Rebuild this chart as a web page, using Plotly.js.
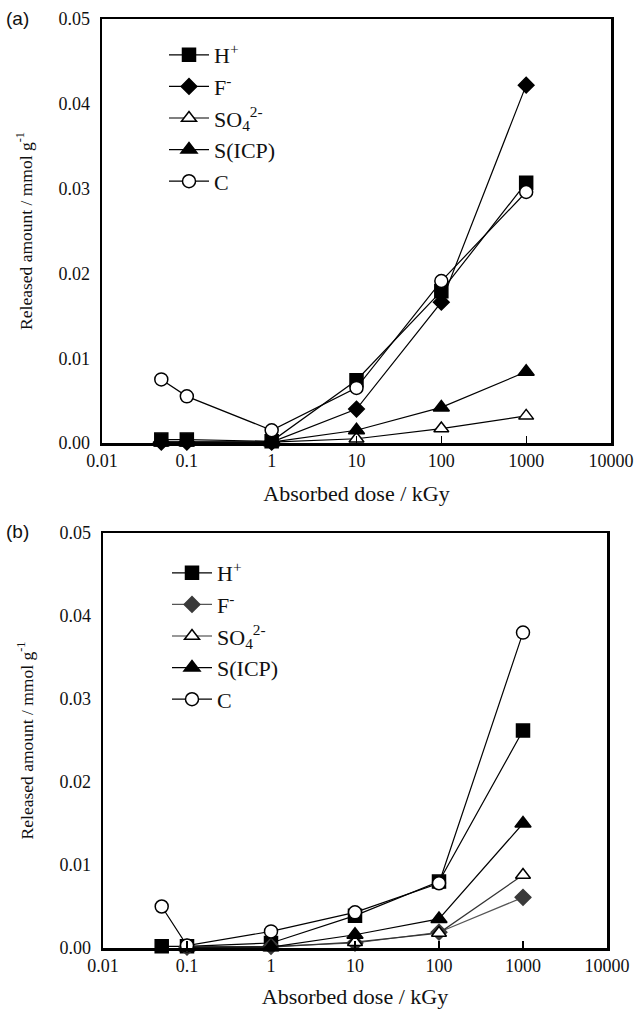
<!DOCTYPE html>
<html>
<head>
<meta charset="utf-8">
<script src="https://cdn.plot.ly/plotly-3.0.1.min.js"></script>
<style>html,body{margin:0;padding:0;background:#fff;}#chart{width:637px;height:1009px;}</style>
</head>
<body>
<div id="chart"></div>
<script>
// Absorbed dose (kGy)
const dose = [0.05, 0.1, 1, 10, 100, 1000];
const seriesNames = ["H<sup>+</sup>", "F<sup>-</sup>", "SO<sub>4</sub><sup>2-</sup>", "S(ICP)", "C"];
const xTickVals = [0.01, 0.1, 1, 10, 100, 1000, 10000];
const xTickText = ["0.01", "0.1", "1", "10", "100", "1000", "10000"];

// Panel (a) released amounts, mmol/g
const aH   = [0.0004, 0.0004, 0.0002, 0.0074, 0.0179, 0.0307];
const aF   = [0.0001, 0.0001, 0.0001, 0.0040, 0.0166, 0.0422];
const aSO4 = [0.0001, 0.0001, 0.0001, 0.0005, 0.0017, 0.0032];
const aS   = [0.0001, 0.0001, 0.0001, 0.0015, 0.0042, 0.0084];
const aC   = [0.0075, 0.0055, 0.0015, 0.0065, 0.0191, 0.0296];

// Panel (b) released amounts, mmol/g
const bH   = [0.0002, 0.0002, 0.0006, 0.0039, 0.0080, 0.0262];
const bF   = [null,   0.0001, 0.0002, 0.0006, 0.0019, 0.0061];
const bSO4 = [null,   0.0001, 0.0001, 0.0007, 0.0018, 0.0088];
const bS   = [null,   0.0001, 0.0001, 0.0016, 0.0035, 0.0150];
const bC   = [0.0050, 0.0003, 0.0020, 0.0043, 0.0078, 0.0380];

const serif = "Liberation Serif, Times New Roman, serif";
const sans = "Liberation Sans, Arial, sans-serif";
const styles = [
  {symbol: "square", color: "#000", line: "#000", lc: "#000"},
  {symbol: "diamond", color: "#000", line: "#000", lc: "#000"},
  {symbol: "triangle-up", color: "#fff", line: "#000", lc: "#000"},
  {symbol: "triangle-up", color: "#000", line: "#000", lc: "#000"},
  {symbol: "circle", color: "#fff", line: "#000", lc: "#000"}
];
const stylesB = [
  {symbol: "square", color: "#000", line: "#000", lc: "#000"},
  {symbol: "diamond", color: "#3a3a3a", line: "#3a3a3a", lc: "#555"},
  {symbol: "triangle-up", color: "#fff", line: "#000", lc: "#333"},
  {symbol: "triangle-up", color: "#000", line: "#000", lc: "#000"},
  {symbol: "circle", color: "#fff", line: "#000", lc: "#000"}
];
const sizes = [13, 12, 13, 14, 13];

function mk(ys, i, st, xa, ya, leg) {
  return {
    x: dose, y: ys, name: seriesNames[i], type: "scatter", mode: "lines+markers",
    xaxis: xa, yaxis: ya, legend: leg, legendgroup: leg + i,
    line: {color: st.lc, width: 1.2},
    marker: {symbol: st.symbol, size: sizes[i], color: st.color, line: {color: st.line, width: 1.5}},
    cliponaxis: false
  };
}
const aSeries = [aH, aF, aSO4, aS, aC];
const bSeries = [bH, bF, bSO4, bS, bC];
const data = [];
aSeries.forEach((s, i) => data.push(mk(s, i, styles[i], "x", "y", "legend")));
bSeries.forEach((s, i) => data.push(mk(s, i, stylesB[i], "x2", "y2", "legend2")));

const W = 637, H = 1009;
function xa(l, r, so) {
  return {
    type: "log", range: [-2, 4], domain: [l / W, r / W],
    tickvals: xTickVals, ticktext: xTickText,
    ticks: "inside", ticklen: 7, tickwidth: 1.2, tickcolor: "#000",
    showline: true, linecolor: "#000", linewidth: 2.5, mirror: true,
    showgrid: false, zeroline: false,
    tickfont: {family: serif, size: 18, color: "#111"},
    title: {text: "Absorbed dose / kGy", font: {family: serif, size: 22, color: "#111"}, standoff: so}
  };
}
function ya(t, b, anchor) {
  return {
    range: [0, 0.05], domain: [(H - b) / H, (H - t) / H], anchor: anchor,
    tickvals: [0, 0.01, 0.02, 0.03, 0.04, 0.05], tickformat: ".2f",
    ticks: "", showline: true, linecolor: "#000", linewidth: 2.5, mirror: true,
    showgrid: false, zeroline: false, ticklabelstandoff: 6,
    tickfont: {family: serif, size: 18, color: "#111"},
    title: {text: "Released amount / mmol g<sup>-1</sup>", font: {family: serif, size: 17.5, color: "#111"}, standoff: 22}
  };
}
function leg(xp, yp) {
  return {
    x: xp / W, y: (H - yp) / H, xanchor: "left", yanchor: "top",
    bgcolor: "rgba(0,0,0,0)", borderwidth: 0, traceorder: "grouped", tracegroupgap: 0,
    font: {family: serif, size: 22, color: "#111"}, itemwidth: 40
  };
}

const layout = {
  width: W, height: H, margin: {l: 0, r: 0, t: 0, b: 0},
  paper_bgcolor: "#fff", plot_bgcolor: "#fff", showlegend: true,
  xaxis: Object.assign(xa(102, 611, 16), {anchor: "y"}),
  yaxis: ya(19, 443, "x"),
  xaxis2: Object.assign(xa(103, 607, 14), {anchor: "y2"}),
  yaxis2: ya(533, 948, "x2"),
  legend: leg(164, 34),
  legend2: leg(167, 552),
  annotations: [
    {text: "(a)", xref: "paper", yref: "paper", x: 4 / W, y: (H - 19) / H, xanchor: "left", yanchor: "middle", showarrow: false, font: {family: sans, size: 19, color: "#111"}},
    {text: "(b)", xref: "paper", yref: "paper", x: 4 / W, y: (H - 531) / H, xanchor: "left", yanchor: "middle", showarrow: false, font: {family: sans, size: 19, color: "#111"}}
  ]
};

Plotly.newPlot("chart", data, layout, {staticPlot: true, displayModeBar: false});
</script>
</body>
</html>
